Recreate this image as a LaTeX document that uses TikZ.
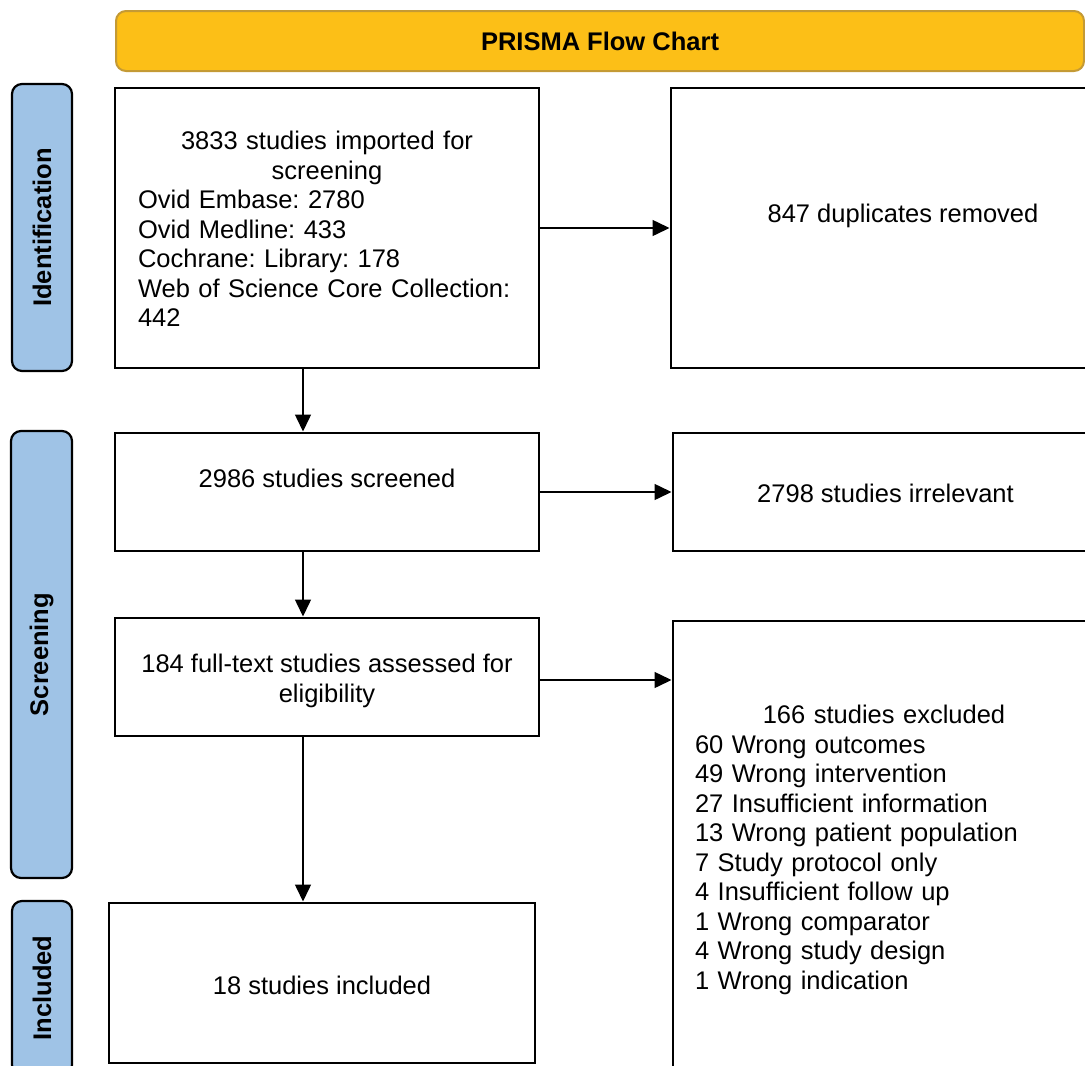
\documentclass[tikz,border=0pt]{standalone}
\usepackage{fontspec}
\setmainfont{Liberation Sans}
\usetikzlibrary{arrows.meta}
\definecolor{bannerfill}{HTML}{FCBF17}
\definecolor{bannerdraw}{HTML}{C49A35}
\definecolor{phasefill}{HTML}{9FC3E6}
\begin{document}
\frenchspacing
\begin{tikzpicture}[x=1pt,y=-1pt,
  every node/.style={font=\fontsize{25.5}{29.5}\selectfont\frenchspacing, inner sep=0pt, outer sep=0pt},
  box/.style={draw=black, line width=2.2pt, fill=white},
  phase/.style={draw=black, line width=2.2pt, fill=phasefill, rounded corners=10pt},
  banner/.style={draw=bannerdraw, line width=2pt, fill=bannerfill, rounded corners=10pt},
  arr/.style={line width=1.5pt, -{Triangle[length=17pt,width=16pt]}, shorten >=1.5pt},
]
\useasboundingbox (0,0) rectangle (1085,1066);
\clip (0,0) rectangle (1085,1066);

% banner
\node[banner, minimum width=968pt, minimum height=60pt] (banner) at (600,41) {\bfseries PRISMA Flow Chart};

% phase labels
\node[phase, minimum width=60pt, minimum height=287pt] (pid) at (42,227.5) {};
\node[rotate=90] (pidt) at (pid.center) {\bfseries Identification};
\node[phase, minimum width=61pt, minimum height=447pt] (pscr) at (41.5,654.5) {};
\node[rotate=90] (pscrt) at (pscr.center) {\bfseries Screening};
\node[phase, minimum width=60pt, minimum height=174pt] (pinc) at (42,988) {};
\node[rotate=90] (pinct) at (pinc.center) {\bfseries Included};

% boxes
\node[box, minimum width=424pt, minimum height=280pt] (b1) at (327,228) {};
\node[box, minimum width=464pt, minimum height=280pt] (dup) at (903,228) {};
\node[box, minimum width=424pt, minimum height=118pt] (scr) at (327,492) {};
\node[box, minimum width=425pt, minimum height=118pt] (irr) at (885.5,492) {};
\node[box, minimum width=424pt, minimum height=118pt] (full) at (327,677) {};
\node[box, minimum width=422pt, minimum height=499pt] (excl) at (884,870.5) {};
\node[box, minimum width=426pt, minimum height=160pt] (inc) at (322,983) {};

% texts
\node[text width=378pt, anchor=north] (b1t) at (327,131.5)
  {\centering 3833 studies imported for\\screening\par
   \raggedright Ovid Embase: 2780\\Ovid Medline: 433\\Cochrane: Library: 178\\Web of Science Core Collection:\\442\par};
\node (dupt) at (903,216) {847 duplicates removed};
\node (scrt) at (327,478) {2986 studies screened};
\node (irrt) at (885.5,493) {2798 studies irrelevant};
\node[align=center] (fullt) at (327,681) {184 full-text studies assessed for\\eligibility};
\node[text width=378pt, anchor=north] (exclt) at (884,705.5)
  {\centering 166 studies excluded\par
   \raggedright 60 Wrong outcomes\\49 Wrong intervention\\27 Insufficient information\\13 Wrong patient population\\7 Study protocol only\\4 Insufficient follow up\\1 Wrong comparator\\4 Wrong study design\\1 Wrong indication\par};
\node (inct) at (322,985) {18 studies included};

% connectors
\coordinate (vx) at (303,0);
\coordinate (fy) at (0,680);
\draw[arr] (vx |- b1.south) -- (vx |- scr.north);
\draw[arr] (vx |- scr.south) -- (vx |- full.north);
\draw[arr] (vx |- full.south) -- (vx |- inc.north);
\draw[arr] (b1.east) -- (b1.east -| dup.west);
\draw[arr] (scr.east) -- (scr.east -| irr.west);
\draw[arr] (fy -| full.east) -- (fy -| excl.west);
\end{tikzpicture}
\end{document}
